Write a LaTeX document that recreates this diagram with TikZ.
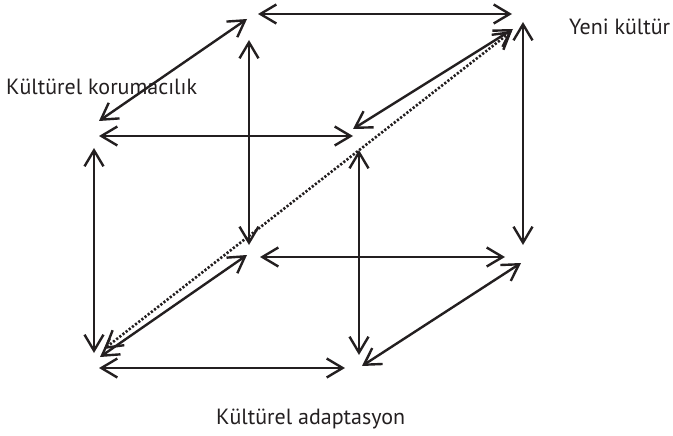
\documentclass[tikz,border=0pt]{standalone}
\usepackage{fontspec}
\setmainfont{PT Sans}
\usetikzlibrary{arrows.meta}
\definecolor{ink}{HTML}{231F20}
\begin{document}
\begin{tikzpicture}[x=1pt,y=-1pt,
  link/.style={draw=ink,line width=2.4pt,{Straight Barb[length=16pt,width=19pt]}-{Straight Barb[length=16pt,width=19pt]}},
  dotlink/.style={draw=ink,line width=2.6pt,dash pattern=on 2.2pt off 1.8pt,{Straight Barb[length=16pt,width=19pt,line width=2.4pt]}-{Straight Barb[length=16pt,width=19pt,line width=2.4pt]}},
  lbl/.style={font=\fontsize{22}{26}\selectfont,text=ink,inner sep=0pt}]
\useasboundingbox (0,0) rectangle (673,436);
% endpoints
\coordinate (bt1) at (258,14);  \coordinate (bt2) at (512,14);
\coordinate (tl1) at (99,121);  \coordinate (tl2) at (247,19);
\coordinate (ft1) at (99,136);  \coordinate (ft2) at (353,136);
\coordinate (tr1) at (353,129); \coordinate (tr2) at (513,29);
\coordinate (dd1) at (104,349); \coordinate (dd2) at (512,31);
\coordinate (bl1) at (249,40);  \coordinate (bl2) at (249,245);
\coordinate (fl1) at (94,148);  \coordinate (fl2) at (94,353);
\coordinate (fr1) at (359,150); \coordinate (fr2) at (359,355);
\coordinate (br1) at (523,22);  \coordinate (br2) at (523,245);
\coordinate (bb1) at (260,257); \coordinate (bb2) at (505,257);
\coordinate (dr1) at (362,366); \coordinate (dr2) at (521,263);
\coordinate (fb1) at (99,368);  \coordinate (fb2) at (345,368);
\coordinate (dl1) at (100,357); \coordinate (dl2) at (247,255);
% connectors
\draw[link] (bt1) -- (bt2);
\draw[link] (tl1) -- (tl2);
\draw[link] (ft1) -- (ft2);
\draw[link] (tr1) -- (tr2);
\draw[dotlink] (dd1) -- (dd2);
\draw[link] (bl1) -- (bl2);
\draw[link] (fl1) -- (fl2);
\draw[link] (fr1) -- (fr2);
\draw[link] (br1) -- (br2);
\draw[link] (bb1) -- (bb2);
\draw[link] (dr1) -- (dr2);
\draw[link] (fb1) -- (fb2);
\draw[link] (dl1) -- (dl2);
% labels
\node[lbl,anchor=base west] (kk) at (6,95) {Kültürel korumacılık};
\node[lbl,anchor=base west] (yk) at (569,35) {Yeni kültür};
\node[lbl,anchor=base west] (ka) at (216,424) {Kültürel adaptasyon};
\end{tikzpicture}
\end{document}
